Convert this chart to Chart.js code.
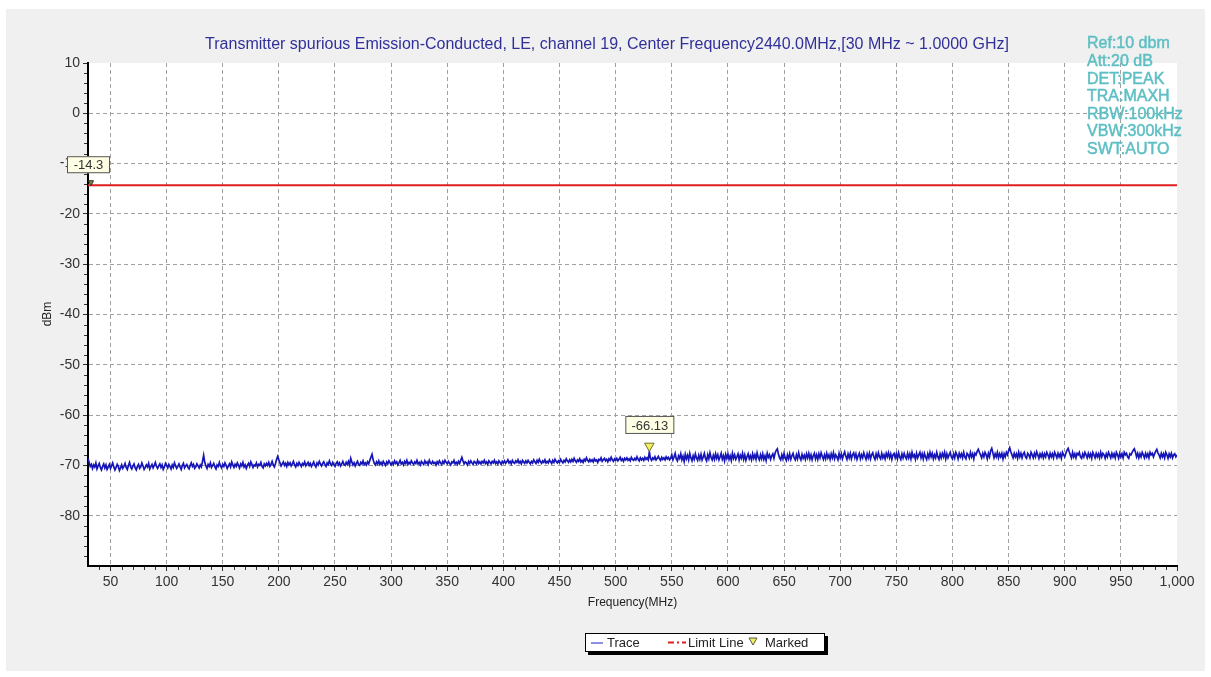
<!DOCTYPE html>
<html>
<head>
<meta charset="utf-8">
<script src="https://cdn.jsdelivr.net/npm/chart.js@4/dist/chart.umd.min.js"></script>
<style>
  html, body { margin: 0; padding: 0; background: #fff; }
  canvas { display: block; }
</style>
</head>
<body>
<canvas id="spurChart" width="1211" height="677"></canvas>
<script>
// sweep settings (MHz)
const freqStart = 30;
const freqStep = 1;

// trace values, dBm, one per MHz from 30 to 1000
const traceValues = [
  // 30
  -68.6, -69.4, -70.2, -69.8, -70.6, -69.9, -70.3, -69.5, -70.7, -70.1,
  -69.6, -70.4, -70.9, -70.2, -69.7, -70.5, -69.9, -70.8, -70.3, -69.8,
  -70.6, -70.1, -69.5, -70.3, -70.9, -70.4, -69.8, -70.2, -71.0, -70.5,
  -69.9, -70.6, -70.2, -69.6, -70.4, -70.8, -70.0, -69.4, -70.3, -70.7,
  -70.1, -69.7, -70.5, -70.9, -70.2, -69.8, -70.6, -70.3, -69.5, -70.1,
  -70.8, -70.4, -69.9, -70.3, -69.6, -70.7, -70.2, -69.8, -70.5, -70.0,
  -69.4, -70.2, -70.6, -70.1, -69.7, -70.4, -69.9, -70.8, -70.3, -69.6,
  // 100
  -70.0, -70.5, -69.8, -70.2, -70.7, -69.9, -70.4, -69.5, -70.1, -70.6,
  -70.2, -69.7, -70.3, -70.8, -70.0, -69.6, -70.5, -70.1, -69.8, -70.4,
  -70.7, -70.0, -69.5, -70.2, -69.8, -70.6, -70.3, -69.7, -70.1, -70.5,
  -69.9, -70.3, -69.2, -68.0, -69.4, -70.1, -70.6, -69.8, -70.2, -69.5,
  -70.4, -70.0, -69.6, -70.3, -70.7, -69.9, -70.2, -69.4, -70.1, -70.5,
  -69.8, -70.2, -69.5, -70.0, -70.6, -70.1, -69.7, -70.3, -69.3, -69.9,
  -70.4, -69.8, -70.2, -69.5, -70.0, -70.5, -69.7, -70.1, -69.4, -70.3,
  -69.9, -70.6, -70.0, -69.6, -70.2, -69.3, -69.8, -70.4, -69.9, -70.1,
  -69.5, -70.3, -69.8, -70.0, -69.4, -70.2, -70.5, -69.7, -70.1, -69.6,
  -70.0, -69.4, -70.2, -69.8, -69.2, -69.9, -70.3, -69.6, -68.8, -68.2,
  // 200
  -68.9, -69.5, -70.1, -69.7, -69.3, -70.0, -69.6, -70.2, -69.4, -69.9,
  -69.5, -70.1, -69.7, -69.2, -69.9, -70.3, -69.6, -70.0, -69.4, -69.8,
  -70.2, -69.6, -69.9, -69.3, -70.1, -69.7, -69.4, -70.0, -69.6, -70.2,
  -69.8, -69.3, -69.9, -70.3, -69.5, -69.9, -69.2, -69.7, -70.1, -69.6,
  -69.3, -69.9, -70.2, -69.5, -69.8, -69.1, -69.7, -70.0, -69.4, -69.9,
  -70.2, -69.6, -69.3, -69.9, -69.5, -70.1, -69.7, -69.2, -69.8, -70.0,
  -69.4, -69.8, -69.2, -69.9, -68.6, -69.3, -69.9, -69.5, -70.1, -69.6,
  -69.2, -69.8, -70.0, -69.4, -69.7, -69.1, -69.8, -69.5, -69.9, -69.3,
  -69.7, -69.0, -68.4, -67.8, -68.9, -69.6, -69.9, -69.3, -69.7, -69.1,
  -69.8, -69.4, -69.9, -69.2, -69.6, -70.0, -69.3, -69.7, -69.1, -69.5,
  // 300
  -69.9, -69.4, -69.8, -69.1, -69.6, -69.3, -69.9, -69.5, -69.0, -69.7,
  -69.4, -69.9, -69.2, -69.6, -69.0, -69.8, -69.4, -69.7, -69.1, -69.5,
  -69.8, -69.3, -69.6, -69.0, -69.7, -69.4, -69.9, -69.2, -69.5, -69.8,
  -69.1, -69.6, -69.3, -69.8, -69.0, -69.5, -69.7, -69.2, -69.6, -69.4,
  -69.9, -69.3, -69.7, -69.1, -69.5, -69.8, -69.2, -69.6, -69.0, -69.4,
  -69.7, -69.2, -69.6, -69.9, -69.3, -69.5, -69.0, -69.7, -69.4, -69.8,
  -69.2, -69.6, -69.0, -68.4, -69.1, -69.7, -69.3, -69.5, -69.9, -69.2,
  -69.6, -69.1, -69.5, -69.8, -69.2, -69.4, -69.7, -69.0, -69.6, -69.3,
  -69.7, -69.2, -69.5, -69.0, -69.6, -69.3, -69.8, -69.1, -69.4, -69.7,
  -69.2, -69.5, -69.0, -69.6, -69.3, -69.7, -69.1, -69.4, -69.8, -69.2,
  // 400
  -69.5, -69.1, -69.6, -69.3, -68.9, -69.5, -69.2, -69.7, -69.0, -69.4,
  -69.6, -69.1, -69.4, -68.9, -69.5, -69.2, -69.7, -69.0, -69.3, -69.6,
  -69.1, -69.5, -69.0, -69.4, -69.7, -69.2, -69.5, -68.9, -69.3, -69.6,
  -69.0, -69.4, -68.8, -69.3, -69.6, -69.1, -69.4, -68.9, -69.5, -69.2,
  -69.5, -68.9, -69.3, -69.6, -69.0, -69.4, -68.8, -69.2, -69.5, -69.1,
  -69.4, -68.8, -69.2, -69.5, -69.0, -69.3, -68.7, -69.1, -69.4, -68.9,
  -69.3, -68.8, -69.2, -68.6, -69.1, -69.4, -68.9, -69.2, -68.7, -69.3,
  -69.0, -69.4, -68.8, -69.1, -68.5, -69.0, -69.3, -68.8, -69.2, -68.9,
  -69.3, -68.7, -69.1, -68.9, -69.4, -68.8, -69.0, -68.5, -69.2, -68.9,
  -68.6, -69.1, -68.8, -69.3, -68.7, -69.0, -68.4, -68.9, -69.2, -68.7,
  // 500
  -69.0, -68.6, -69.1, -68.8, -68.4, -69.0, -68.7, -69.2, -68.6, -68.9,
  -68.5, -69.0, -68.7, -69.1, -68.4, -68.8, -69.0, -68.6, -68.9, -68.3,
  -68.8, -69.1, -68.5, -68.9, -68.6, -69.0, -68.4, -68.8, -68.5, -68.9,
  -67.3, -68.6, -69.0, -68.5, -68.8, -68.3, -68.9, -68.6, -68.2, -68.7,
  -69.0, -68.4, -68.8, -68.5, -68.9, -68.3, -68.7, -68.4, -68.9, -68.6,
  -67.9, -68.9, -68.3, -67.6, -68.7, -69.1, -68.1, -68.6, -67.7, -68.9,
  -68.2, -69.2, -67.8, -68.7, -68.0, -68.9, -67.6, -68.5, -69.1, -68.1,
  -68.8, -67.7, -68.5, -69.0, -68.0, -68.8, -67.8, -68.9, -68.3, -67.6,
  -68.6, -69.1, -67.9, -68.7, -67.5, -68.4, -68.9, -68.0, -68.8, -67.7,
  -68.6, -67.9, -68.9, -68.3, -67.6, -68.8, -68.1, -69.1, -67.8, -68.6,
  // 600
  -67.7, -68.8, -68.1, -69.0, -67.6, -68.6, -67.9, -68.8, -68.3, -67.7,
  -68.9, -68.0, -68.6, -67.6, -68.8, -67.9, -69.0, -68.3, -67.7, -68.7,
  -68.1, -68.9, -67.7, -68.6, -67.9, -68.8, -67.5, -68.4, -68.9, -67.9,
  -68.7, -67.7, -68.8, -68.1, -69.0, -67.6, -68.4, -67.9, -68.8, -68.1,
  -67.7, -68.6, -67.6, -67.0, -66.7, -67.8, -68.5, -68.9, -67.9, -68.7,
  -67.6, -68.5, -69.0, -67.9, -68.7, -67.7, -68.8, -68.1, -67.6, -68.5,
  -68.9, -67.9, -68.7, -67.5, -68.4, -68.9, -67.8, -68.6, -68.0, -68.8,
  -67.7, -68.5, -67.6, -68.7, -67.9, -68.9, -68.1, -67.6, -68.7, -67.9,
  -68.8, -67.7, -68.5, -67.5, -68.2, -68.8, -67.9, -68.7, -67.6, -68.5,
  -67.9, -68.8, -67.7, -68.5, -67.5, -68.7, -67.9, -68.3, -68.9, -67.6,
  // 700
  -68.5, -67.7, -68.7, -67.9, -67.3, -68.2, -68.8, -67.7, -68.5, -67.6,
  -68.7, -67.9, -67.5, -68.5, -67.7, -68.8, -68.1, -67.6, -68.7, -67.9,
  -68.5, -67.5, -68.2, -68.8, -67.7, -68.5, -67.6, -68.7, -67.9, -67.5,
  -68.3, -68.8, -67.7, -68.5, -67.5, -68.3, -68.7, -67.6, -68.5, -67.9,
  -68.7, -67.6, -68.3, -67.5, -68.5, -67.7, -68.8, -67.9, -67.6, -68.5,
  -67.7, -68.7, -67.5, -68.3, -68.8, -67.7, -68.5, -67.6, -68.3, -68.7,
  -67.6, -68.5, -67.7, -68.7, -67.4, -68.3, -67.9, -68.8, -67.6, -68.5,
  -67.9, -67.4, -68.5, -67.7, -68.7, -67.6, -68.3, -68.8, -67.7, -68.5,
  -67.4, -68.3, -67.6, -68.7, -67.9, -68.5, -67.4, -68.3, -68.8, -67.7,
  -68.5, -67.6, -68.3, -67.4, -68.7, -67.7, -68.5, -67.9, -67.4, -68.3,
  // 800
  -68.7, -67.7, -68.5, -67.4, -67.9, -68.7, -67.6, -68.3, -67.7, -68.5,
  -67.4, -68.3, -68.7, -67.6, -67.9, -68.5, -67.4, -68.3, -67.7, -68.7,
  -67.6, -67.9, -67.2, -66.8, -67.4, -67.9, -68.5, -67.6, -68.3, -67.4,
  -67.9, -68.7, -67.6, -68.3, -67.1, -66.6, -67.5, -68.5, -67.7, -68.3,
  -67.4, -68.5, -67.7, -68.3, -67.6, -68.7, -67.7, -68.3, -67.4, -67.9,
  -67.1, -66.5, -67.3, -67.9, -68.5, -67.6, -68.3, -67.7, -68.6, -67.4,
  -68.3, -67.6, -68.5, -67.7, -67.4, -68.3, -68.6, -67.6, -67.9, -68.5,
  -67.4, -67.9, -68.5, -67.6, -68.3, -67.3, -67.9, -68.6, -67.7, -68.3,
  -67.6, -68.5, -67.7, -68.3, -67.4, -67.9, -68.6, -67.6, -68.3, -67.7,
  -68.5, -67.4, -67.9, -68.5, -67.6, -68.3, -67.7, -68.6, -67.4, -67.9,
  // 900
  -68.3, -67.6, -67.0, -66.6, -67.3, -67.9, -68.5, -67.4, -68.3, -67.7,
  -68.5, -67.6, -67.9, -67.4, -68.3, -68.6, -67.7, -68.3, -67.4, -67.9,
  -68.5, -67.6, -68.3, -67.7, -68.6, -67.4, -67.9, -68.5, -67.6, -68.3,
  -67.7, -68.5, -67.4, -68.3, -67.6, -67.9, -68.6, -67.7, -68.3, -67.4,
  -67.9, -68.5, -67.6, -68.3, -67.7, -68.5, -67.4, -67.9, -68.6, -67.6,
  -68.3, -67.7, -68.5, -67.4, -67.9, -67.6, -68.3, -68.6, -67.7, -67.9,
  -67.4, -67.0, -66.7, -67.4, -68.3, -67.6, -68.5, -67.7, -68.3, -67.4,
  -67.9, -68.5, -67.6, -68.3, -67.7, -68.5, -67.4, -67.9, -67.6, -68.3,
  -67.7, -67.2, -66.8, -67.5, -67.9, -68.5, -67.6, -68.3, -67.7, -68.5,
  -67.4, -67.9, -68.6, -67.7, -68.3, -67.6, -68.5, -67.9, -67.7, -68.3,
  // 1000
  -67.9
];

// limit line and marker
const limitFreqs = [30, 1000];
const limitValues = [-14.3, -14.3];
const markerFreqs = [530];
const markerValues = [-66.13];

// axis ticks
const xTickValues = [50, 100, 150, 200, 250, 300, 350, 400, 450, 500, 550, 600, 650, 700, 750, 800, 850, 900, 950, 1000];
const yTickValues = [-80, -70, -60, -50, -40, -30, -20, -10, 0, 10];

const titleText = "Transmitter spurious Emission-Conducted, LE, channel 19, Center Frequency2440.0MHz,[30 MHz ~ 1.0000 GHz]";
const settingsLines = ["Ref:10 dbm", "Att:20 dB", "DET:PEAK", "TRA:MAXH", "RBW:100kHz", "VBW:300kHz", "SWT:AUTO"];

const FONT = '"Liberation Sans", Arial, sans-serif';
Chart.defaults.font.family = FONT;

const tracePoints = traceValues.map((v, i) => ({ x: freqStart + i * freqStep, y: v }));
const limitPoints = limitFreqs.map((f, i) => ({ x: f, y: limitValues[i] }));
const markerPoints = markerFreqs.map((f, i) => ({ x: f, y: markerValues[i] }));

function labelBox(ctx, text, x, y, w, h) {
    ctx.fillStyle = "#ffffe6";
    ctx.fillRect(x, y, w, h);
    ctx.strokeStyle = "#555";
    ctx.lineWidth = 1;
    ctx.strokeRect(x + 0.5, y + 0.5, w - 1, h - 1);
    ctx.fillStyle = "#333";
    ctx.font = "13px " + FONT;
    ctx.textAlign = "center";
    ctx.textBaseline = "middle";
    ctx.fillText(text, x + w / 2, y + h / 2 + 1);
}

function downTriangle(ctx, cx, cy, w, h, fill, stroke) {
    ctx.beginPath();
    ctx.moveTo(cx - w / 2, cy - h / 2);
    ctx.lineTo(cx + w / 2, cy - h / 2);
    ctx.lineTo(cx, cy + h / 2);
    ctx.closePath();
    ctx.fillStyle = fill;
    ctx.fill();
    ctx.strokeStyle = stroke;
    ctx.lineWidth = 1;
    ctx.stroke();
}

const backdrop = {
    id: "backdrop",
    beforeDraw(chart) {
        const { ctx, chartArea: a } = chart;
        ctx.save();
        ctx.fillStyle = "#ffffff";
        ctx.fillRect(0, 0, chart.width, chart.height);
        ctx.fillStyle = "#f0f0f0";
        ctx.fillRect(6, 9, 1199, 662);
        ctx.fillStyle = "#ffffff";
        ctx.fillRect(a.left, a.top, a.right - a.left, a.bottom - a.top);
        ctx.restore();
    }
};

const extras = {
    id: "extras",
    afterDraw(chart) {
        const { ctx, chartArea: a, scales } = chart;
        const xs = scales.x, ys = scales.y;
        ctx.save();

        // minor ticks
        ctx.strokeStyle = "#333";
        ctx.lineWidth = 1;
        ctx.beginPath();
        for (let f = 40; f < 1000; f += 10) {
            if (f % 50 === 0) continue;
            const px = Math.round(xs.getPixelForValue(f)) + 0.5;
            ctx.moveTo(px, a.bottom + 1);
            ctx.lineTo(px, a.bottom + 4);
        }
        for (let v = -88; v < 10; v += 2) {
            if (v % 10 === 0) continue;
            const py = Math.round(ys.getPixelForValue(v)) + 0.5;
            ctx.moveTo(a.left - 4, py);
            ctx.lineTo(a.left - 1, py);
        }
        ctx.stroke();

        // title
        ctx.fillStyle = "#30309a";
        ctx.font = "16px " + FONT;
        ctx.textAlign = "center";
        ctx.textBaseline = "middle";
        ctx.fillText(titleText, 607, 45);

        // analyser settings
        ctx.fillStyle = "#5ebfc4";
        ctx.strokeStyle = "#5ebfc4";
        ctx.lineWidth = 0.5;
        ctx.font = "16px " + FONT;
        ctx.textAlign = "left";
        settingsLines.forEach((s, i) => {
            ctx.fillText(s, 1087, 44 + i * 17.6);
            ctx.strokeText(s, 1087, 44 + i * 17.6);
        });

        // axis titles
        ctx.fillStyle = "#222";
        ctx.font = "12px " + FONT;
        ctx.textAlign = "center";
        ctx.fillText("Frequency(MHz)", (a.left + a.right) / 2, 603);
        ctx.save();
        ctx.translate(48, 314);
        ctx.rotate(-Math.PI / 2);
        ctx.fillText("dBm", 0, 0);
        ctx.restore();

        // limit label
        const ly = ys.getPixelForValue(limitValues[0]);
        downTriangle(ctx, a.left + 3, ly - 2, 5, 5, "#8a8a30", "#333");
        labelBox(ctx, limitValues[0].toFixed(1), a.left - 21, ly - 29, 43, 17);

        // marker label
        const mx = xs.getPixelForValue(markerFreqs[0]);
        const my = ys.getPixelForValue(markerValues[0]);
        labelBox(ctx, markerValues[0].toFixed(2), mx - 24, my - 30, 49, 18);

        // legend
        const lx = 585, ly2 = 633, lw = 240, lh = 19;
        ctx.fillStyle = "#000";
        ctx.fillRect(lx + 3, ly2 + 3, lw, lh);
        ctx.fillStyle = "#fff";
        ctx.fillRect(lx, ly2, lw, lh);
        ctx.strokeStyle = "#000";
        ctx.lineWidth = 1;
        ctx.strokeRect(lx + 0.5, ly2 + 0.5, lw - 1, lh - 1);
        const cy = ly2 + lh / 2;
        ctx.strokeStyle = "#1c1cc8";
        ctx.beginPath();
        ctx.moveTo(591, cy + 0.5);
        ctx.lineTo(603, cy + 0.5);
        ctx.stroke();
        ctx.strokeStyle = "#e01e1e";
        ctx.lineWidth = 2;
        ctx.setLineDash([6, 3, 2, 3]);
        ctx.beginPath();
        ctx.moveTo(668, cy);
        ctx.lineTo(686, cy);
        ctx.stroke();
        ctx.setLineDash([]);
        downTriangle(ctx, 753, cy - 1, 8, 7, "#f2f25a", "#555");
        ctx.fillStyle = "#222";
        ctx.font = "13px " + FONT;
        ctx.textAlign = "left";
        ctx.textBaseline = "middle";
        ctx.fillText("Trace", 607, cy + 1);
        ctx.fillText("Limit Line", 688, cy + 1);
        ctx.fillText("Marked", 765, cy + 1);

        ctx.restore();
    }
};

const gridColor = (edge) => (c) => (c.tick && c.tick.value === edge ? "rgba(0,0,0,0)" : "#a0a0a0");

const ctx = document.getElementById("spurChart").getContext("2d");
new Chart(ctx, {
    type: "line",
    data: {
        datasets: [
            { label: "Marked", data: markerPoints, showLine: false, pointStyle: "triangle", rotation: 180,
              pointRadius: 5.5, pointBackgroundColor: "#f2f25a", pointBorderColor: "#6d6d30", pointBorderWidth: 1 },
            { label: "Limit Line", data: limitPoints, borderColor: "#e01e1e", borderWidth: 2, pointRadius: 0 },
            { label: "Trace", data: tracePoints, borderColor: "#1616b8", borderWidth: 1.7, pointRadius: 0, tension: 0 }
        ]
    },
    options: {
        responsive: false,
        animation: false,
        devicePixelRatio: 1,
        layout: { padding: { left: 0, top: 63, right: 34, bottom: 0 } },
        plugins: { legend: { display: false }, tooltip: { enabled: false }, title: { display: false } },
        scales: {
            x: {
                type: "linear",
                min: 30,
                max: 1000,
                afterBuildTicks: (s) => { s.ticks = xTickValues.map((v) => ({ value: v })); },
                afterFit: (s) => { s.height = 111; },
                grid: { color: gridColor(1000), tickColor: "#333", tickLength: 5, tickBorderDash: [], lineWidth: 1 },
                border: { display: true, color: "#000", width: 2, dash: [4, 3] },
                ticks: { color: "#333", font: { size: 14 }, padding: 3, maxRotation: 0, autoSkip: false,
                         callback: (v) => v.toLocaleString("en-US") }
            },
            y: {
                min: -90,
                max: 10,
                afterBuildTicks: (s) => { s.ticks = yTickValues.map((v) => ({ value: v })); },
                afterFit: (s) => { s.width = 88; },
                grid: { color: gridColor(10), tickColor: "#333", tickLength: 5, tickBorderDash: [], lineWidth: 1 },
                border: { display: true, color: "#000", width: 2, dash: [4, 3] },
                ticks: { color: "#333", font: { size: 14 }, padding: 3, autoSkip: false }
            }
        }
    },
    plugins: [backdrop, extras]
});
</script>
</body>
</html>
